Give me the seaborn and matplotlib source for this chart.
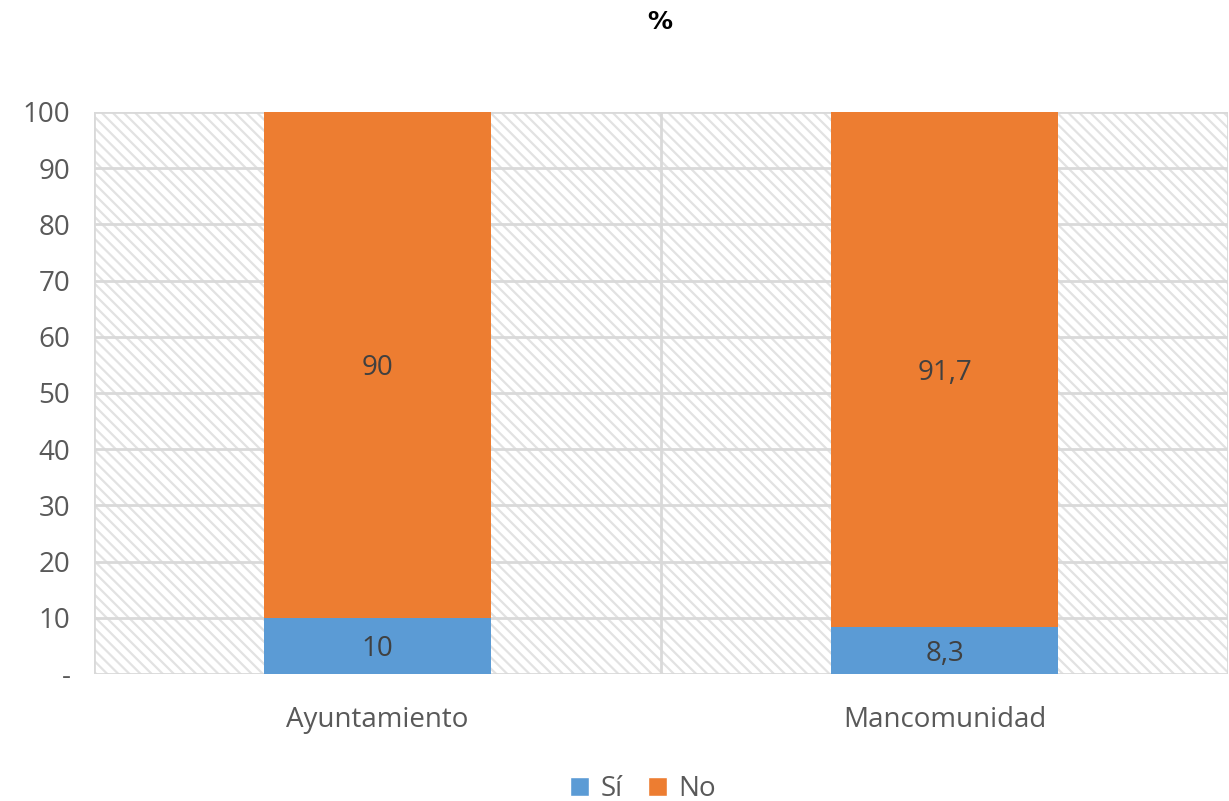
import matplotlib
matplotlib.use("Agg")
import matplotlib.pyplot as plt
import seaborn as sns
import pandas as pd
from matplotlib.patches import Rectangle, Patch

categorias = ["Ayuntamiento", "Mancomunidad"]
si = [10, 8.3]
no = [90, 91.7]
etiquetas_si = ["10", "8,3"]
etiquetas_no = ["90", "91,7"]
yticks = [0, 10, 20, 30, 40, 50, 60, 70, 80, 90, 100]
ytick_labels = ["-"] + [str(v) for v in yticks[1:]]

AZUL = "#5b9bd5"
NARANJA = "#ed7d31"
GRIS = "#d9d9d9"
TRAMA = "#e2e2e2"
TEXTO = "#595959"

sns.set_theme(style="white")
plt.rcParams["font.family"] = ["Open Sans", "DejaVu Sans"]
plt.rcParams["hatch.color"] = TRAMA
plt.rcParams["hatch.linewidth"] = 1.6

df = pd.DataFrame({"categoria": categorias, "si": si, "no": no})
df["total"] = df["si"] + df["no"]

fig = plt.figure(figsize=(12.29, 8.01), dpi=100)
ax = fig.add_axes([0.0765, 0.1586, 0.9227, 0.7016])

# hatched plot background
ax.patch.set_visible(False)
ax.add_patch(Rectangle((0, 0), 1, 1, transform=ax.transAxes, facecolor="white",
                       edgecolor=TRAMA, hatch="\\\\\\", linewidth=0, zorder=0))

# stacked bars: total (orange) underneath, "Sí" (blue) drawn over its base
sns.barplot(data=df, x="categoria", y="total", color=NARANJA, saturation=1,
            width=0.4, ax=ax, zorder=3, linewidth=0)
sns.barplot(data=df, x="categoria", y="si", color=AZUL, saturation=1,
            width=0.4, ax=ax, zorder=4, linewidth=0)

ax.set_xlim(-0.5, 1.5)
ax.set_ylim(0, 100)
ax.set_yticks(yticks)
ax.set_yticklabels(ytick_labels)

for y in yticks:
    ax.axhline(y, color=GRIS, lw=2, zorder=1)
for x in [-0.5, 0.5, 1.5]:
    ax.axvline(x, color=GRIS, lw=2, zorder=1)

for i in range(len(categorias)):
    ax.text(i, si[i] / 2, etiquetas_si[i], ha="center", va="center_baseline",
            fontsize=20, color="#404040", zorder=5)
    ax.text(i, si[i] + no[i] / 2, etiquetas_no[i], ha="center", va="center_baseline",
            fontsize=20, color="#404040", zorder=5)

for s in ax.spines.values():
    s.set_visible(False)
ax.tick_params(axis="both", length=0, labelsize=20, labelcolor=TEXTO)
ax.tick_params(axis="x", pad=23)
ax.tick_params(axis="y", pad=17)
ax.set_xlabel("")
ax.set_ylabel("")

fig.text(0.537, 0.972, "%", ha="center", va="center", fontsize=18,
         fontweight="bold", color="black", family=["DejaVu Sans"])

handles = [Patch(facecolor=AZUL, label="Sí"), Patch(facecolor=NARANJA, label="No")]
fig.legend(handles=handles, loc="center", bbox_to_anchor=(0.523, 0.015), ncol=2,
           frameon=False, fontsize=20, handlelength=0.7, handleheight=0.7,
           handletextpad=0.4, columnspacing=0.9, labelcolor=TEXTO)

fig.savefig("out.png", dpi=100)
